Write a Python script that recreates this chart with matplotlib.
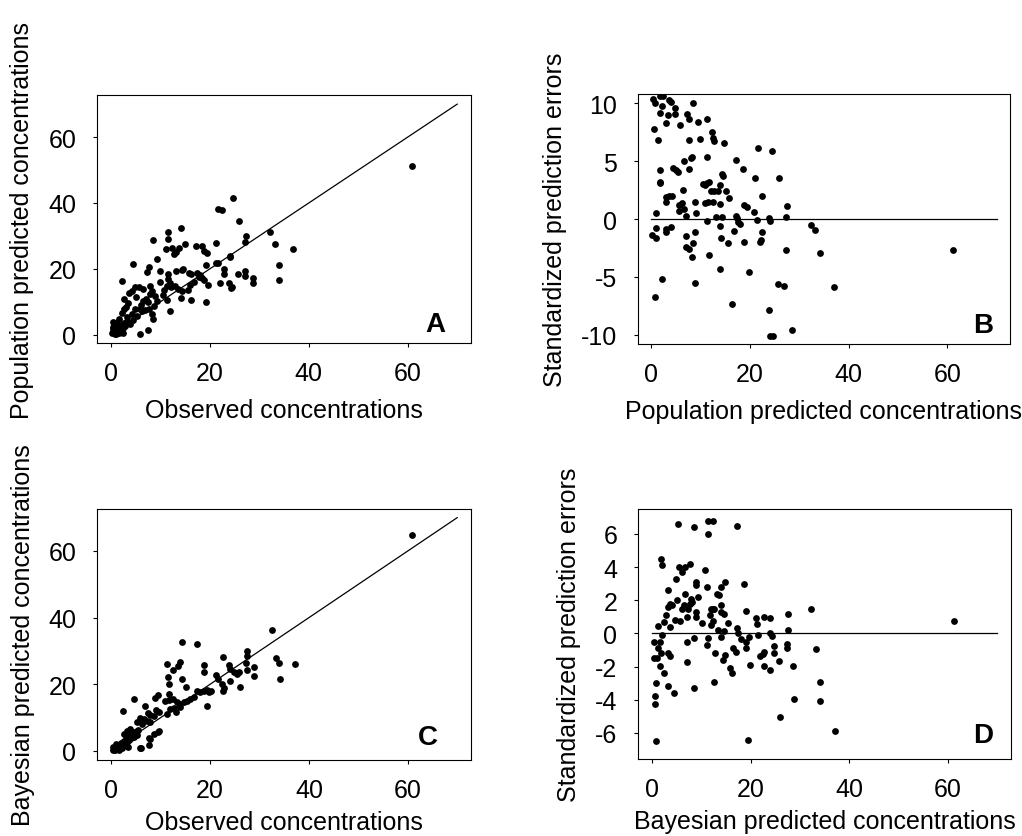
import numpy as np
import matplotlib
matplotlib.use("Agg")
import matplotlib.pyplot as plt

plt.rcParams['font.family'] = ['Liberation Sans', 'DejaVu Sans']
plt.rcParams['axes.unicode_minus'] = False

# panel A: observed vs population predicted
obs_a = [60.9, 24.6, 21.6, 22.5, 25.9, 32.2, 33.1, 36.8, 34.0, 33.9, 27.3, 27.2, 24.1, 24.1,
         21.3, 21.7, 22.8, 22.8, 25.7, 27.1, 27.2, 28.8, 28.8, 22.1, 23.8, 24.2, 24.5, 21.2,
         19.7, 19.3, 18.9, 19.5, 18.4, 17.2, 19.2, 18.0, 18.9, 18.4, 16.9, 17.4, 17.8, 15.7,
         16.2, 14.3, 14.5, 15.0, 14.1, 13.7, 12.7, 13.1, 12.4, 11.2, 11.6, 11.5, 8.6, 9.4,
         10.0, 7.7, 7.4, 11.5, 11.6, 11.9, 11.4, 12.2, 13.0, 13.5, 14.3, 14.1, 15.6, 16.3,
         10.7, 11.4, 11.9, 4.4, 2.3, 4.2, 4.8, 5.6, 6.5, 3.6, 7.9, 8.3, 7.9, 2.7, 3.4, 2.6,
         6.6, 7.1, 7.6, 9.3, 8.8, 4.9, 5.8, 6.3, 6.9, 7.8, 8.3, 8.6, 4.2, 3.2, 2.2, 1.7, 0.5,
         1.2, 5.9, 7.6, 9.9, 10.5, 5.0, 6.0, 3.0, 9.0, 13.2, 16.0,
         0.3, 0.6, 0.8, 1.0, 1.2, 1.4, 0.5, 1.6, 1.8, 2.0, 2.2, 0.9, 1.3, 2.5, 2.7, 0.4, 1.1,
         1.9, 2.9, 0.7, 1.5, 2.4, 3.2, 3.8, 4.5, 5.2]
pop_a = [51.3, 41.6, 38.2, 38.0, 34.4, 31.1, 27.6, 26.0, 21.3, 16.6, 30.0, 28.3, 24.0, 23.5,
         21.8, 21.7, 20.0, 18.5, 18.5, 19.4, 17.7, 17.3, 15.6, 15.6, 15.6, 14.3, 14.5, 27.9,
         15.0, 9.9, 25.3, 24.9, 26.8, 26.8, 21.1, 18.0, 16.6, 17.2, 15.9, 18.6, 17.6, 18.6,
         18.3, 19.6, 20.1, 27.7, 32.3, 26.4, 24.4, 25.0, 26.2, 26.0, 31.3, 29.0, 28.8, 23.0,
         19.5, 20.5, 19.2, 18.5, 17.0, 15.6, 14.9, 14.4, 14.9, 13.9, 13.4, 11.1, 13.5, 10.6,
         13.5, 10.6, 7.3, 21.6, 16.2, 13.3, 14.4, 14.5, 13.8, 12.8, 14.9, 13.3, 12.4, 10.9, 9.5, 7.7,
         10.4, 10.9, 9.9, 10.3, 8.7, 7.9, 7.9, 7.1, 7.4, 7.7, 6.4, 4.8, 6.2, 5.4, 6.6, 4.8, 3.8,
         2.8, 0.3, 1.5, 16.0, 12.0, 11.5, 9.0, 8.5, 11.8, 19.5, 15.0,
         0.5, 1.2, 0.3, 2.0, 0.8, 1.5, 2.5, 0.4, 2.2, 1.0, 3.0, 3.2, 3.6, 2.0, 3.5, 1.8, 0.1,
         1.6, 2.6, 0.9, 2.8, 0.6, 4.2, 3.2, 4.5, 5.8]

# panel B: population predicted vs standardized prediction errors
pop_b = [0.3, 0.8, 1.7, 2.4, 2.2, 1.7, 3.5, 3.9, 4.7, 3.4, 4.8, 2.9, 0.5, 5.9, 7.2, 7.6, 8.4,
         9.4, 11.3, 1.4, 7.6, 9.9, 12.2, 12.4, 12.8, 14.7, 11.2, 6.6, 8.0, 8.2, 7.6, 4.4, 5.0,
         5.5, 1.8, 1.7, 1.8, 17.1, 18.5, 21.6, 24.5, 21.0, 25.8, 22.4, 27.5, 27.2, 6.5, 10.4,
         10.8, 11.3, 11.7, 12.0, 12.8, 13.5, 14.0, 14.4, 14.5, 15.2, 15.8, 10.8, 11.4, 12.4,
         13.9, 8.9, 2.9, 3.6, 4.1, 3.0, 5.6, 6.2, 6.6, 5.6, 7.1, 9.1, 1.0, 18.7, 19.4, 20.9,
         21.4, 13.2, 14.4, 17.1, 17.4, 17.6, 17.9, 11.3, 14.0, 23.9, 24.1, 32.3, 33.2, 34.1,
         27.2, 22.5, 22.2, 22.0, 18.7, 16.7, 14.1, 15.6, 8.8, 7.0, 8.5, 7.1, 7.6, 8.3, 11.6,
         13.9, 19.7, 8.9, 2.2, 0.7, 25.6, 26.9, 37.0, 16.3, 23.9, 28.6, 24.0, 24.6, 61.2,
         0.2, 0.9, 1.0, 2.9, 3.05, 4.0]
err_b = [10.4, 10.05, 10.6, 10.6, 9.8, 9.2, 10.3, 10.1, 9.6, 9.0, 9.1, 8.3, 7.8, 8.1, 9.1,
         8.6, 10.0, 8.4, 8.6, 6.8, 6.8, 6.9, 7.5, 7.0, 6.7, 6.6, 5.4, 5.0, 5.3, 5.4, 4.3, 4.4,
         4.2, 4.1, 4.2, 3.2, 3.1, 5.1, 4.3, 6.1, 5.9, 3.5, 3.5, 2.0, 1.1, 0.2, 2.5, 3.0, 2.9,
         3.1, 3.2, 2.4, 2.4, 2.4, 2.9, 3.9, 3.7, 2.4, 1.8, 1.4, 1.5, 1.5, 1.3, 1.5, 1.9, 2.0,
         2.0, 1.5, 1.2, 1.4, 0.9, 0.7, 0.3, 0.5, 0.5, 1.2, 1.0, 0.6, -0.1, 0.2, 0.2, 0.3, 0.06,
         -0.3, -0.4, -0.2, -0.6, 0.06, -0.2, -0.5, -0.95, -2.9, -2.7, -1.15, -1.8, -2.0, -2.0,
         -1.05, -1.6, -2.1, -1.1, -1.5, -2.1, -2.4, -2.6, -3.3, -3.1, -4.3, -4.6, -5.5, -5.2,
         -6.7, -5.6, -5.8, -5.9, -7.3, -7.9, -9.6, -10.1, -10.1, -2.7,
         -1.4, -1.6, -0.8, -0.9, -1.15, -0.7]

# panel C: observed vs bayesian predicted
obs_c = [60.9, 32.5, 14.3, 17.4, 22.6, 27.4, 27.5, 33.3, 34.0, 37.1, 34.1, 28.8, 28.9, 27.3,
         27.5, 23.8, 24.1, 24.8, 25.5, 25.9, 24.1, 26.0, 21.3, 21.7, 22.4, 22.6, 22.9, 18.8,
         18.7, 11.3, 13.5, 13.9, 12.5, 11.6, 11.7, 14.3, 15.1, 9.5, 8.8, 4.6, 2.5, 6.9, 11.8,
         10.9, 11.8, 12.6, 13.3, 14.0, 14.7, 15.3, 16.0, 16.7, 17.4, 18.0, 18.7, 19.4, 19.8,
         20.1, 19.4, 12.0, 12.7, 11.4, 13.1, 14.0, 9.6, 9.1, 8.6, 7.9, 7.4, 5.8, 6.6, 7.3, 7.8,
         5.3, 6.3, 3.9, 3.2, 4.6, 2.6, 5.2, 9.7, 8.6, 7.9, 7.7, 5.9, 6.0, 7.6, 9.4,
         0.3, 0.5, 0.7, 0.9, 1.1, 1.2, 1.4, 1.6, 1.8, 2.0, 2.1, 2.3, 2.5, 2.7, 2.9, 3.1, 3.3,
         3.5, 3.7, 3.9, 4.1, 4.3, 4.6, 4.8, 0.4, 1.0, 1.5, 2.2, 3.0, 3.4, 5.2, 5.5]
bay_c = [64.7, 36.3, 32.6, 32.1, 28.3, 29.9, 28.5, 27.9, 26.3, 26.1, 21.6, 25.3, 22.6, 26.4,
         24.3, 25.8, 24.6, 23.6, 23.2, 23.8, 20.9, 19.3, 22.9, 21.6, 20.1, 18.1, 18.8, 25.9,
         23.8, 26.2, 25.6, 26.6, 24.2, 22.3, 20.1, 21.6, 19.1, 16.9, 15.9, 15.5, 12.1, 13.5, 17.1,
         15.0, 15.4, 15.6, 14.8, 14.1, 14.6, 15.1, 15.6, 16.3, 18.1, 17.8, 18.1, 18.4, 17.6,
         18.1, 13.5, 12.6, 13.0, 11.1, 11.8, 13.3, 11.8, 12.3, 10.6, 10.9, 11.4, 10.0, 9.6, 9.0,
         8.6, 8.6, 8.1, 6.6, 6.0, 5.7, 5.2, 6.0, 6.0, 5.0, 3.5, 1.8, 0.8, 0.9, 3.9, 5.8,
         0.2, 0.6, 0.3, 1.0, 0.5, 1.4, 0.9, 1.8, 1.2, 2.3, 1.6, 2.8, 1.9, 3.0, 2.4, 3.6, 2.8,
         4.2, 3.3, 4.6, 3.8, 5.0, 4.3, 5.4, 1.3, 2.0, 0.2, 0.9, 1.8, 1.2, 4.8, 6.2]

# panel D: bayesian predicted vs standardized prediction errors
bay_d = [0.88, 0.74, 0.74, 0.88, 0.34, 0.34, 1.0, 1.2, 1.7, 1.6, 1.9, 3.2, 3.7, 2.5, 3.2,
         4.4, 2.1, 1.3, 2.5, 2.8, 3.7, 3.2, 3.6, 4.1, 3.2, 1.8, 1.96, 4.8, 5.2, 4.7, 5.7, 5.6,
         6.2, 6.7, 5.3, 7.8, 6.8, 6.2, 6.6, 7.4, 7.9, 7.8, 8.1, 7.2, 8.9, 9.0, 9.4, 8.9, 9.0,
         8.6, 7.2, 8.45, 7.2, 8.5, 10.2, 10.7, 11.2, 11.4, 11.4, 12.4, 11.7, 11.9, 12.3, 12.6,
         11.9, 12.3, 11.4, 11.2, 12.9, 12.5, 13.2, 13.7, 14.1, 14.1, 14.9, 14.1, 14.7, 13.4,
         14.7, 14.1, 15.5, 14.8, 14.4, 15.8, 16.2, 16.4, 16.97, 17.2, 17.2, 17.5, 18.0, 18.6,
         19.0, 19.1, 19.0, 19.7, 19.9, 19.4, 21.2, 21.3, 21.6, 21.96, 22.5, 22.8, 22.7, 24.0,
         22.7, 24.0, 24.0, 24.3, 24.7, 24.7, 25.8, 26.0, 27.3, 27.3, 27.5, 27.7, 28.7, 28.9,
         32.3, 33.3, 34.1, 34.1, 37.1, 61.3]
err_d = [-6.5, -4.24, -3.8, -3.0, -0.5, -1.46, -1.46, -0.9, -0.5, -1.95, -1.2, -1.2, -1.35,
         -2.4, -3.2, -3.6, -0.1, 0.45, 0.66, 1.1, 0.4, 1.6, 1.8, 1.7, 2.6, 4.5, 4.1, 3.3, 2.0,
         0.8, 0.75, 4.0, 3.7, 4.0, 6.6, 4.2, 2.4, 1.5, 1.7, 1.5, 2.1, 1.8, 1.9, 1.0, 1.0, 1.3,
         2.2, 3.1, 2.9, 6.4, -0.5, -0.3, -1.75, -3.3, 0.6, 3.8, 2.8, 6.0, 6.8, 6.8, 1.1, 1.5,
         1.5, 1.5, 0.5, 0.74, -0.25, -0.7, -1.2, -2.95, 2.4, 2.3, 1.7, 2.8, 3.1, 1.3, 1.2, 0.2,
         0.16, -0.2, 0.65, -1.3, -1.6, -2.1, -2.4, -0.9, -1.1, 6.5, 0.3, 0.05, -0.35, 3.0,
         1.35, -0.5, -0.9, -0.2, -1.9, -6.4, 0.9, 0.54, -0.1, -1.35, -1.25, -1.15, -1.95, -2.2,
         1.0, 0.95, 0.02, -0.15, -0.74, -1.2, -1.65, -5.06, -0.65, -0.85, 0.2, 1.2, -1.95,
         -3.96, 1.5, -0.95, -2.95, -4.1, -5.9, 0.76]

line_x = [0, 70]
conc_ticks = [0, 20, 40, 60]

fig = plt.figure(figsize=(10.22, 8.37), dpi=100)

panels = [
    # rect, x, y, ylim, yticks, xlabel, ylabel, letter, letter position, ref line, xlabel pad
    ([0.0949, 0.589, 0.366, 0.296], obs_a, pop_a, (-2.5, 72.7), conc_ticks,
     'Observed concentrations', 'Population predicted concentrations', 'A', (0.930, 0.048), 'diag', 9),
    ([0.6238, 0.5878, 0.3649, 0.2987], pop_b, err_b, (-10.8, 10.8), [-10, -5, 0, 5, 10],
     'Population predicted concentrations', 'Standardized prediction errors', 'B', (0.953, 0.048), 'zero', 9),
    ([0.0952, 0.0912, 0.3657, 0.2995], obs_c, bay_c, (-2.6, 72.6), conc_ticks,
     'Observed concentrations', 'Bayesian predicted concentrations', 'C', (0.912, 0.063), 'diag', 6),
    ([0.6243, 0.092, 0.3649, 0.2987], bay_d, err_d, (-7.57, 7.5), [-6, -4, -2, 0, 2, 4, 6],
     'Bayesian predicted concentrations', 'Standardized prediction errors', 'D', (0.952, 0.068), 'zero', 6),
]

for rect, xs, ys, ylim, yticks, xlab, ylab, letter, lpos, ref, xpad in panels:
    ax = fig.add_axes(rect)
    ax.scatter(xs, ys, s=24, color='black', linewidths=0, zorder=3)
    if ref == 'diag':
        ax.plot(line_x, line_x, color='black', lw=0.9)
    else:
        ax.plot(line_x, [0, 0], color='black', lw=0.9)
    ax.set_xlim(-2.8, 72.8)
    ax.set_ylim(*ylim)
    ax.set_xticks(conc_ticks)
    ax.set_yticks(yticks)
    ax.tick_params(direction='out', length=3, width=0.8, labelsize=18)
    ax.tick_params(axis='x', pad=10)
    ax.tick_params(axis='y', pad=12)
    for sp in ax.spines.values():
        sp.set_linewidth(0.8)
    ax.set_xlabel(xlab, fontsize=18, labelpad=xpad)
    ax.set_ylabel(ylab, fontsize=18, labelpad=10)
    ax.text(lpos[0], lpos[1], letter, transform=ax.transAxes, ha='right', va='baseline',
            fontsize=20, fontweight='bold')

fig.savefig('out.png', dpi=100)
